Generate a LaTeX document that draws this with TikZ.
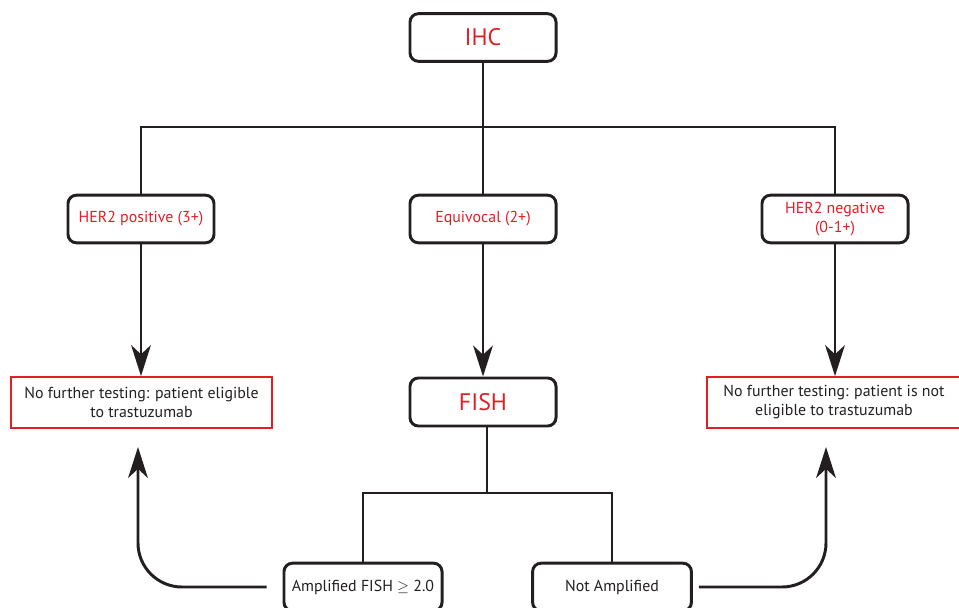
\documentclass[tikz,border=0pt]{standalone}
\usepackage{fontspec}
\setmainfont{PT Sans}
\usetikzlibrary{arrows.meta,positioning}
\definecolor{boxred}{RGB}{228,30,38}
\definecolor{ink}{RGB}{35,31,32}
\tikzset{>={Stealth[length=22pt,width=14pt,inset=6.5pt]}}
\tikzset{%
    wire/.style={draw=ink,line width=2.1pt},%
    arr/.style={wire,->},%
    test/.style={draw=ink,line width=2.1pt,rounded corners=6pt,%
        minimum width=3.65cm,minimum height=1.19cm,inner sep=2pt,%
        text=boxred,align=center,font=\fontsize{11.3}{13.5}\selectfont},%
    bigtest/.style={test,font=\fontsize{17}{20}\selectfont},%
    result/.style={draw=boxred,line width=1.7pt,minimum height=1.26cm,%
        inner sep=2pt,text=ink,align=center,font=\fontsize{11.3}{13.5}\selectfont}%
}

\begin{document}
\begin{tikzpicture}[x=0.025cm,y=-0.025cm]
    \useasboundingbox (0,0) rectangle (959,607);
    % tests
    \node[bigtest] (ihc) at (483,37.5) {IHC};
    \node[test] (pos) at (141,219) {HER2 positive (3+)};
    \node[test] (equ) at (483,219) {Equivocal (2+)};
    \node[test] (neg) at (835,219) {HER2 negative\\(0-1+)};
    \node[bigtest,minimum height=1.2cm] (fish) at (483,402) {FISH};
    \node[test,text=ink,minimum width=3.95cm] (amp) at (363,587) {Amplified FISH $\geq$ 2.0};
    \node[test,text=ink,minimum width=3.97cm] (notamp) at (612,587) {Not Amplified};
    % outcomes
    \node[result,minimum width=6.52cm] (elig) at (141.5,402.5)
        {No further testing: patient eligible\\to trastuzumab};
    \node[result,minimum width=6.35cm] (notelig) at (834,402.5)
        {No further testing: patient is not\\eligible to trastuzumab};
    % branch points
    \coordinate (split1) at (483,127);
    \coordinate (split2) at (487,493);
    \coordinate (in1) at (138,447);
    \coordinate (in2) at (826,447);

    \draw[wire] (ihc) -- (equ);
    \draw[wire] (pos.north) |- (split1) -| (neg.north);
    \draw[arr] (pos.south) -- (pos.south |- elig.north);
    \draw[arr] (equ) -- (fish);
    \draw[arr] (neg.south) -- (neg.south |- notelig.north);

    \draw[wire] (fish.south -| split2) -- (split2);
    \draw[wire] (amp.north) |- (split2) -| (notamp.north);
    \draw[arr,rounded corners=1.1cm] ([xshift=-0.4cm]amp.west) -| (in1);
    \draw[arr,rounded corners=1.1cm] ([xshift=0.15cm]notamp.east) -| (in2);
\end{tikzpicture}
\end{document}
